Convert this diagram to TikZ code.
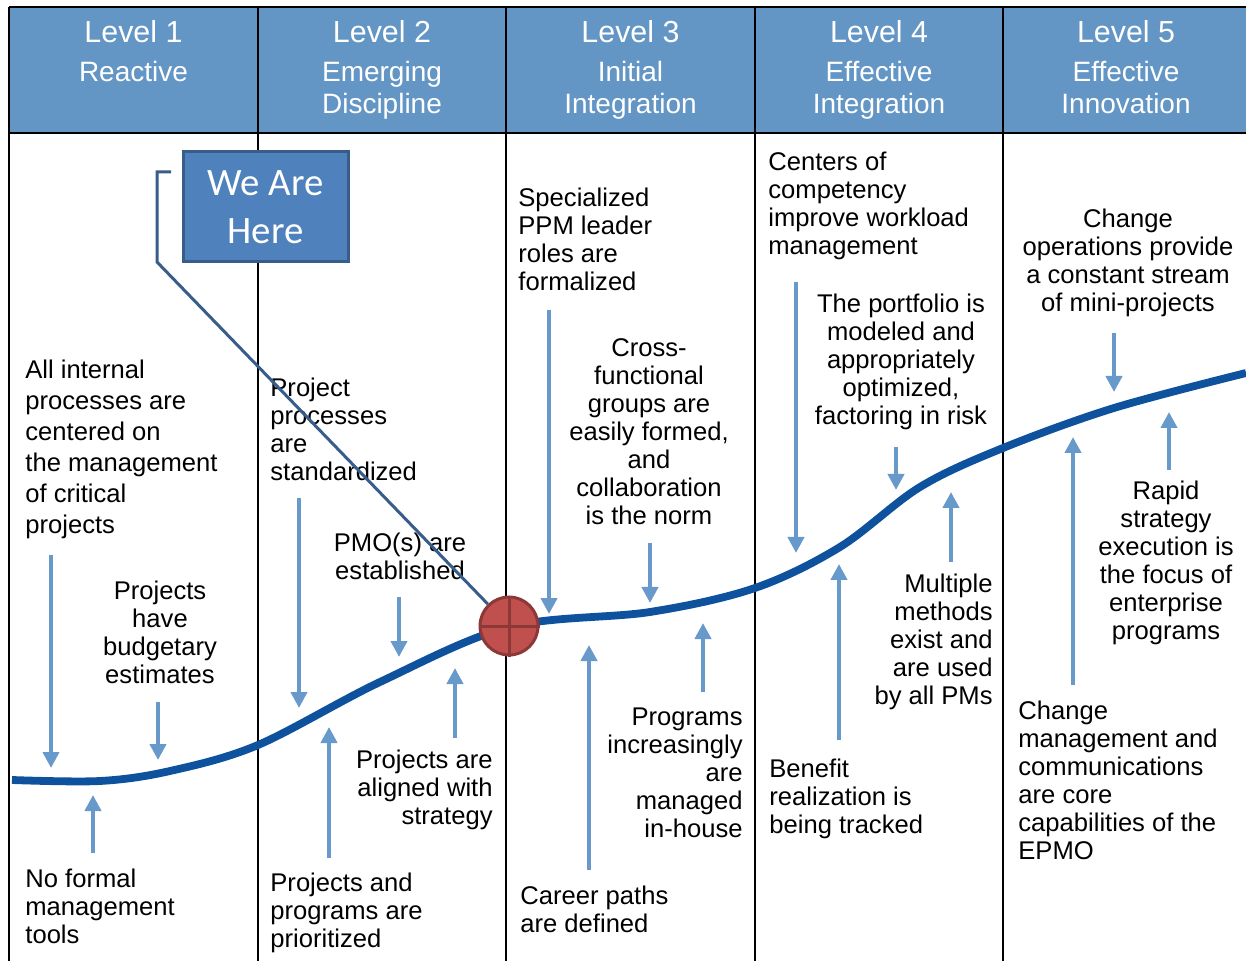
\documentclass[tikz,border=0pt]{standalone}
\usepackage{fontspec}
\setmainfont{Liberation Sans}
\newfontfamily\calloutfont{Carlito}
\usetikzlibrary{arrows.meta,positioning}

\definecolor{hdrblue}{RGB}{99,149,197}
\definecolor{curveblue}{RGB}{14,82,158}
\definecolor{ptrblue}{RGB}{104,153,203}
\definecolor{wahblue}{RGB}{79,129,189}
\definecolor{wahedge}{RGB}{56,93,138}
\definecolor{dotred}{RGB}{192,80,77}
\definecolor{dotedge}{RGB}{140,56,54}

\begin{document}
\begin{tikzpicture}[x=0.5pt,y=-0.5pt,
    grid/.style={black,line width=1.3pt},
    lvl/.style={text=white,inner sep=0pt,font=\fontsize{15.2}{17}\selectfont},
    sub/.style={text=white,inner sep=0pt,anchor=north,align=center,font=\fontsize{14}{16}\selectfont},
    txt/.style={inner sep=0pt,font=\fontsize{12.8}{14}\selectfont},
    txtwide/.style={inner sep=0pt,font=\fontsize{12.8}{15.5}\selectfont},
    ptr/.style={ptrblue,line width=2pt,-{Triangle[width=8pt,length=8pt]}},
    sline/.style={curveblue,line width=3.9pt},
    callout/.style={wahedge,line width=1.5pt},
    dot/.style={circle,fill=dotred,draw=dotedge,line width=1.5pt,minimum size=29pt,inner sep=0pt},
    wah/.style={rectangle,fill=wahblue,draw=wahedge,line width=1.5pt,minimum width=82.5pt,minimum height=55pt,
        text=white,align=center,font=\calloutfont\fontsize{19.4}{24}\selectfont}]
    \useasboundingbox (0,0) rectangle (1246,961);

    % header band
    \fill[hdrblue] (9,7) rectangle (1246,133);
    \draw[grid] (9,7) -- (1246,7);
    \draw[grid] (9,133) -- (1246,133);
    \foreach \x in {9,258,506,755,1003}
        \draw[grid] (\x,7) -- (\x,961);

    \foreach \i/\x/\s in {1/133.5/Reactive,
                          2/382/Emerging\\Discipline,
                          3/630.5/Initial\\Integration,
                          4/879/Effective\\Integration,
                          5/1126/Effective\\Innovation}{
        \node[lvl] (lv\i) at (\x,32) {Level \i};
        \node[sub] (sub\i) at (\x,61) {\s};
    }

    % level 1
    \path (25,360) node (t11) [txtwide,anchor=north west,align=left] {All internal\\processes are\\centered on\\the management\\of critical\\projects}
          (160,581) node (t12) [txt,anchor=north,align=center] {Projects\\have\\budgetary\\estimates}
          (25,869) node (t13) [txt,anchor=north west,align=left] {No formal\\management\\tools};
    % level 2
    \path (270,378) node (t21) [txt,anchor=north west,align=left] {Project\\processes\\are\\standardized}
          (400,533) node (t22) [txt,anchor=north,align=center] {PMO(s) are\\established}
          (493,750) node (t23) [txt,anchor=north east,align=right] {Projects are\\aligned with\\strategy}
          (270,873) node (t24) [txt,anchor=north west,align=left] {Projects and\\programs are\\prioritized};
    % level 3
    \path (518,188) node (t31) [txt,anchor=north west,align=left] {Specialized\\PPM leader\\roles are\\formalized}
          (649,338) node (t32) [txt,anchor=north,align=center] {Cross-\\functional\\groups are\\easily formed,\\and\\collaboration\\is the norm}
          (743,707) node (t33) [txt,anchor=north east,align=right] {Programs\\increasingly\\are\\managed\\in-house}
          (520,886) node (t34) [txt,anchor=north west,align=left] {Career paths\\are defined};
    % level 4
    \path (768,152) node (t41) [txt,anchor=north west,align=left] {Centers of\\competency\\improve workload\\management}
          (901,294) node (t42) [txt,anchor=north,align=center] {The portfolio is\\modeled and\\appropriately\\optimized,\\factoring in risk}
          (993,574) node (t43) [txt,anchor=north east,align=right] {Multiple\\methods\\exist and\\are used\\by all PMs}
          (769,759) node (t44) [txt,anchor=north west,align=left] {Benefit\\realization is\\being tracked};
    % level 5
    \path (1128,209) node (t51) [txt,anchor=north,align=center] {Change\\operations provide\\a constant stream\\of mini-projects}
          (1166,481) node (t52) [txt,anchor=north,align=center] {Rapid\\strategy\\execution is\\the focus of\\enterprise\\programs}
          (1018,701) node (t53) [txt,anchor=north west,align=left] {Change\\management and\\communications\\are core\\capabilities of the\\EPMO};

    % pointers onto the curve
    \foreach \n/\x/\ya/\yb in {1/51/555/768, 2/158/702/760, 3/93/853/795,
                               4/299/498/708, 5/399/597/657, 6/329/858/727, 7/455/738/668,
                               8/549/310/614, 9/650/543/603, 10/589/870/645, 11/703/692/623,
                               12/796/282/553, 13/896/447/490, 14/839/740/564, 15/951/562/492,
                               16/1114/333/392, 17/1169/470/412, 18/1073/685/437}{
        \coordinate (p\n) at (\x,\ya);
        \coordinate (q\n) at (\x,\yb);
        \draw[ptr] (p\n) -- (q\n);
    }

    % maturity curve
    \draw[sline] plot[smooth,tension=0.55] coordinates {(12,780) (100,781) (170,771) (258,745)
        (380,682) (509,627) (650,612) (755,588) (840,547) (920,487) (1003,448)
        (1114,408) (1246,373)};

    % we are here
    \node (circ) [dot] at (509,626) {};
    \draw[dotedge,line width=1.5pt] (circ.north) -- (circ.south) (circ.west) -- (circ.east);
    \coordinate (brk) at (171,172);
    \coordinate (bend1) at (157,172);
    \coordinate (bend2) at (157,262);
    \draw[callout] (brk) -- (bend1) -- (bend2) -- (circ);
    \node (wah) [wah] at (265.5,207) {We Are\\Here};
\end{tikzpicture}
\end{document}
